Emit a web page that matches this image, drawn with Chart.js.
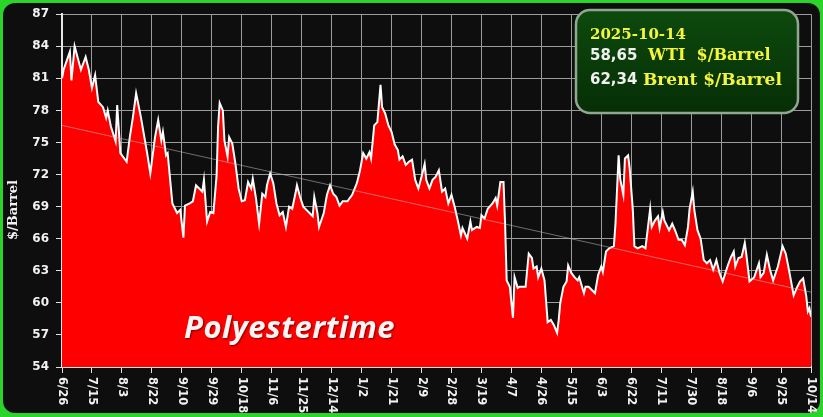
<!DOCTYPE html>
<html lang="en">
<head>
<meta charset="UTF-8">
<title>WTI $/Barrel</title>
<script src="https://cdn.jsdelivr.net/npm/chart.js"></script>
<style>
    body { margin: 0; background: #27c927; }
    #wrap { width: 823px; height: 417px; }
</style>
</head>
<body>
<div id="wrap"><canvas id="oilChart" width="823" height="417"></canvas></div>
<script>
    // day offsets from 6/26 (2024) and WTI closing prices
    const days = [0,1,5,6,8,10,12,15,17,19,21,23,26,28,29,31,34,35,37,41,43,45,47,50,54,56,59,61,63,64,66,67,70,73,75,77,78,81,83,85,87,89,90,92,94,96,98,99,100,102,103,105,106,108,110,112,114,116,118,120,121,123,125,127,129,130,132,134,136,138,140,142,144,146,148,149,151,153,155,157,159,160,162,163,166,168,170,172,174,176,178,181,184,187,189,191,193,195,196,198,200,202,203,205,207,209,211,213,214,216,218,220,222,224,226,228,230,231,233,235,237,239,241,243,245,247,249,251,253,254,257,259,260,263,265,266,268,270,273,275,276,278,280,281,282,284,286,287,289,290,294,296,298,299,301,302,304,306,308,310,312,314,315,316,318,320,321,323,325,327,328,331,332,334,336,338,340,342,343,345,347,350,351,353,354,356,357,359,360,362,363,365,368,370,373,374,376,378,379,381,382,385,387,389,391,393,395,397,398,400,401,403,405,407,409,411,413,415,417,419,422,424,426,427,429,431,433,434,436,439,442,443,445,447,449,451,454,457,459,461,464,466,468,470,472,473,474,475];
    const wti = [81.0,81.8,83.5,80.8,84.0,82.9,81.8,83.0,81.8,80.1,81.3,78.8,78.3,77.3,78.0,76.5,75.1,78.5,74.0,73.2,75.5,77.4,79.6,77.4,74.0,72.1,75.5,77.1,75.2,76.0,73.8,74.0,69.3,68.4,68.7,66.1,69.1,69.3,69.5,71.0,70.7,70.4,71.5,67.6,68.5,68.4,71.8,76.5,78.7,78.0,75.2,73.7,75.5,74.9,73.0,70.7,69.5,69.6,71.3,70.7,71.6,69.8,67.4,70.2,69.9,71.0,72.1,71.2,69.3,68.2,68.5,67.1,69.0,68.8,70.2,71.0,69.9,69.0,68.7,68.4,68.1,69.9,68.4,67.1,68.4,70.1,71.0,70.2,69.9,69.1,69.5,69.5,70.1,71.2,72.4,74.0,73.5,74.1,73.5,76.6,76.9,80.4,78.3,77.7,76.6,76.0,74.8,74.3,73.4,73.7,72.9,73.2,73.4,71.5,70.7,71.8,73.0,71.5,70.7,71.5,71.8,72.4,70.4,70.7,69.3,70.1,69.0,67.7,66.3,67.0,66.0,67.6,66.8,67.1,67.0,68.2,67.9,68.8,69.3,69.8,69.1,71.3,71.3,67.4,62.1,61.5,58.6,62.4,61.4,61.5,61.5,64.6,64.2,63.2,63.4,62.4,63.2,62.1,58.2,58.4,57.9,57.2,58.4,60.0,61.5,62.0,63.5,62.8,62.4,62.1,62.4,60.9,61.5,61.5,61.2,60.9,62.6,63.4,62.9,64.8,65.1,65.3,67.4,73.8,71.6,70.1,73.5,73.8,72.6,68.7,65.3,65.1,65.3,65.1,68.8,67.1,67.7,68.1,67.0,68.5,67.7,66.8,67.4,66.7,65.9,65.9,65.4,67.1,68.8,70.4,68.7,66.8,66.0,64.0,63.7,64.0,63.1,64.0,62.8,62.0,63.4,64.2,64.8,63.4,64.2,64.3,65.6,64.5,62.0,62.4,63.7,62.4,62.8,64.5,63.1,62.1,63.4,65.3,64.6,63.1,60.7,61.4,62.0,62.3,60.6,59.2,59.5,58.7];
    const trendEnds = [76.6, 61.0];
    const dateLabels = ['6/26','7/15','8/3','8/22','9/10','9/29','10/18','11/6','11/25','12/14','1/2','1/21','2/9','2/28','3/19','4/7','4/26','5/15','6/3','6/22','7/11','7/30','8/18','9/6','9/25','10/14'];
    const labelStep = 19;
    const boxDate = '2025-10-14';
    const boxValues = ['58,65', '62,34'];
    const boxNames = ['WTI  $/Barrel', 'Brent $/Barrel'];

    const lastDay = days[days.length - 1];
    const points = days.map((d, i) => ({ x: d, y: wti[i] }));
    const trend = [{ x: 0, y: trendEnds[0] }, { x: lastDay, y: trendEnds[1] }];

    const framePlugin = {
        id: 'frame',
        beforeDraw(chart) {
            const ctx = chart.ctx;
            ctx.save();
            ctx.fillStyle = '#2bd42b';
            ctx.fillRect(0, 0, chart.width, chart.height);
            ctx.fillStyle = '#0e0e0e';
            ctx.beginPath();
            ctx.roundRect(3, 3, chart.width - 6, chart.height - 7, 12);
            ctx.fill();
            ctx.restore();
        },
        afterDatasetsDraw(chart) {
            // watermark
            const ctx = chart.ctx;
            ctx.save();
            ctx.font = 'italic bold 31px "Open Sans"';
            ctx.letterSpacing = '0.5px';
            ctx.textBaseline = 'alphabetic';
            ctx.shadowColor = 'rgba(90,0,0,0.8)';
            ctx.shadowOffsetX = 1;
            ctx.shadowOffsetY = 1;
            ctx.shadowBlur = 2;
            ctx.fillStyle = '#fff4f4';
            ctx.fillText('Polyestertime', 184, 338);
            ctx.restore();
        },
        afterDraw(chart) {
            const ctx = chart.ctx;
            const xs = chart.scales.x;
            ctx.save();
            // x labels, rotated clockwise
            ctx.fillStyle = '#f2f2f2';
            ctx.font = 'bold 11.5px "DejaVu Sans"';
            ctx.textAlign = 'left';
            ctx.textBaseline = 'middle';
            dateLabels.forEach((lab, i) => {
                const px = xs.getPixelForValue(i * labelStep);
                ctx.save();
                ctx.translate(px, 377);
                ctx.rotate(Math.PI / 2);
                ctx.fillText(lab, 0, 0);
                ctx.restore();
            });
            // y title
            ctx.save();
            ctx.translate(14, 210);
            ctx.rotate(-Math.PI / 2);
            ctx.textAlign = 'center';
            ctx.font = 'bold 13px "DejaVu Serif"';
            ctx.fillText('$/Barrel', 0, 0);
            ctx.restore();

            // info box
            const bx = 576, by = 10, bw = 222, bh = 103;
            const g = ctx.createLinearGradient(0, by, 0, by + bh);
            g.addColorStop(0, '#0d4a0d');
            g.addColorStop(1, '#062e06');
            ctx.fillStyle = g;
            ctx.beginPath();
            ctx.roundRect(bx, by, bw, bh, 14);
            ctx.fill();
            ctx.lineWidth = 2.5;
            ctx.strokeStyle = '#8fa88f';
            ctx.stroke();

            ctx.textAlign = 'left';
            ctx.textBaseline = 'alphabetic';
            ctx.fillStyle = '#f5f53c';
            ctx.font = 'bold 15px "DejaVu Serif"';
            ctx.fillText(boxDate, 590, 39);
            ctx.fillStyle = '#f0f0f0';
            ctx.font = 'bold 15px "DejaVu Sans"';
            ctx.fillText(boxValues[0], 590, 60);
            ctx.fillText(boxValues[1], 590, 84);
            ctx.fillStyle = '#f5f53c';
            ctx.font = 'bold 16px "DejaVu Serif"';
            ctx.fillText(boxNames[0], 648, 60);
            ctx.font = 'bold 17px "DejaVu Serif"';
            ctx.fillText(boxNames[1], 643, 85);
            ctx.restore();
        }
    };

    const ctx = document.getElementById('oilChart').getContext('2d');
    new Chart(ctx, {
        type: 'line',
        data: {
            datasets: [
                {
                    data: trend,
                    borderColor: 'rgba(190,190,190,0.55)',
                    borderWidth: 1,
                    pointRadius: 0,
                    fill: false,
                    order: 0
                },
                {
                    data: points,
                    borderColor: '#ffffff',
                    borderWidth: 2,
                    backgroundColor: '#ff0000',
                    pointRadius: 0,
                    tension: 0,
                    fill: 'start',
                    order: 1
                }
            ]
        },
        options: {
            responsive: false,
            animation: false,
            layout: { padding: { left: 0, top: 14, right: 12, bottom: 0 } },
            plugins: {
                legend: { display: false },
                tooltip: { enabled: false }
            },
            scales: {
                x: {
                    type: 'linear',
                    min: 0,
                    max: lastDay,
                    afterFit: s => { s.height = 50; },
                    ticks: { stepSize: labelStep, display: false },
                    grid: { color: '#9c9c9c', tickColor: '#e0e0e0', tickLength: 6 },
                    border: { color: '#e6e6e6', width: 2 }
                },
                y: {
                    min: 54,
                    max: 87,
                    afterFit: s => { s.width = 62; },
                    ticks: {
                        stepSize: 3,
                        color: '#f2f2f2',
                        padding: 7,
                        font: { family: 'DejaVu Sans', weight: 'bold', size: 12 }
                    },
                    grid: { color: '#9c9c9c', tickColor: '#e0e0e0', tickLength: 6 },
                    border: { color: '#e6e6e6', width: 2 }
                }
            }
        },
        plugins: [framePlugin]
    });
</script>
</body>
</html>
